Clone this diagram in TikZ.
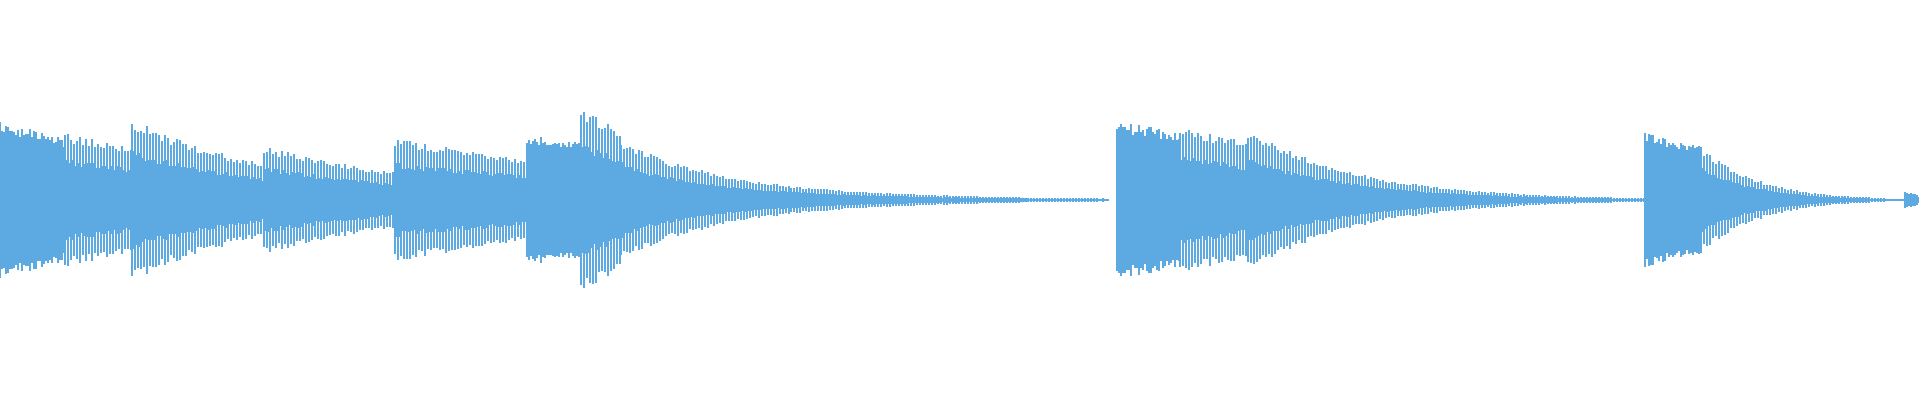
\documentclass[tikz,border=0pt]{standalone}
\definecolor{wave}{RGB}{93,170,226}
\tikzset{wline/.style={draw=wave,line width=0.3pt},wcore/.style={fill=wave}}
\newcommand{\wseg}[5]{% x0 x1 a0 a1 step
  \pgfmathtruncatemacro{\xb}{#1+#5}
  \foreach \x in {#1,\xb,...,#2}{%
    \pgfmathsetmacro{\env}{#3*pow(#4/#3,(\x-#1)/(#2-#1))}%
    \pgfmathsetmacro{\aa}{\env*(0.85+0.15*rnd)}%
    \pgfmathsetmacro{\cc}{\env*(0.5+0.1*rnd)}%
    \fill[wcore] (\x,200-\cc) rectangle (\x+#5,200+\cc);
    \draw[wline] (\x,200-\aa) -- (\x,200+\aa);
  }}
\begin{document}
\begin{tikzpicture}[x=0.01cm,y=-0.01cm]
\pgfmathsetseed{7}
\useasboundingbox (0,0) rectangle (1920,400);
\wseg{0}{64}{80}{62}{2}
\wseg{65}{131}{68}{55}{3}
\wseg{132}{263}{82}{37}{3}
\wseg{264}{394}{55}{28}{3}
\wseg{395}{527}{62}{42}{3}
\wseg{527}{580}{65}{60}{2}
\wseg{581}{620}{95}{70}{3}
\wseg{621}{790}{60}{14}{3}
\wseg{791}{1108}{14}{1.5}{3}
\wseg{1117}{1179}{80}{68}{2}
\wseg{1180}{1247}{75}{58}{3}
\wseg{1248}{1645}{72}{2}{3}
\wseg{1645}{1700}{68}{55}{2}
\wseg{1701}{1885}{55}{2}{3}
\wseg{1905}{1917}{8}{6}{2}
\draw[wline] (1885,200) -- (1905,200);
\end{tikzpicture}
\end{document}
